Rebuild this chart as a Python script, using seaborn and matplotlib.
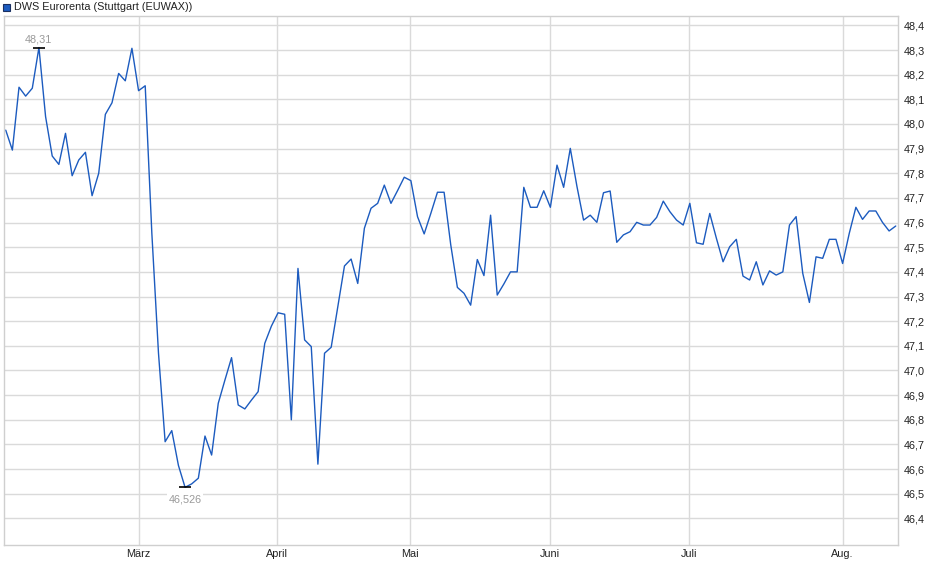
import numpy as np
import pandas as pd
import seaborn as sns
import matplotlib.pyplot as plt
from matplotlib.patches import Rectangle
from matplotlib.ticker import FuncFormatter, FixedLocator

# values, one per trading day (Feb - mid Aug)
prices = [
    47.975, 47.894, 48.149, 48.113, 48.145, 48.310, 48.030, 47.870, 47.836, 47.962,
    47.790, 47.854, 47.885, 47.709, 47.800, 48.039, 48.086, 48.205, 48.175, 48.307,
    48.135, 48.155, 47.556, 47.070, 46.711, 46.756, 46.615, 46.526, 46.540, 46.563,
    46.734, 46.657, 46.867, 46.961, 47.052, 46.860, 46.844, 46.880, 46.914, 47.110,
    47.180, 47.234, 47.228, 46.800, 47.414, 47.124, 47.097, 46.620, 47.070, 47.094,
    47.259, 47.424, 47.452, 47.353, 47.577, 47.658, 47.678, 47.752, 47.678, 47.730,
    47.784, 47.770, 47.624, 47.554, 47.637, 47.723, 47.723, 47.510, 47.337, 47.313,
    47.265, 47.450, 47.385, 47.630, 47.306, 47.351, 47.400, 47.400, 47.743, 47.662,
    47.662, 47.729, 47.662, 47.833, 47.743, 47.901, 47.747, 47.610, 47.630, 47.601,
    47.721, 47.728, 47.520, 47.550, 47.563, 47.601, 47.590, 47.590, 47.621, 47.687,
    47.644, 47.610, 47.590, 47.678, 47.518, 47.512, 47.637, 47.536, 47.441, 47.502,
    47.532, 47.383, 47.367, 47.441, 47.347, 47.404, 47.387, 47.400, 47.590, 47.624,
    47.394, 47.276, 47.461, 47.455, 47.532, 47.532, 47.434, 47.556, 47.662, 47.613,
    47.647, 47.647, 47.601, 47.566, 47.586,
]
month_labels = ['März', 'April', 'Mai', 'Juni', 'Juli', 'Aug.']
month_pos = [20, 40.9, 60.9, 82, 102.9, 126]
y_ticks = [46.4, 46.5, 46.6, 46.7, 46.8, 46.9, 47.0, 47.1, 47.2, 47.3,
           47.4, 47.5, 47.6, 47.7, 47.8, 47.9, 48.0, 48.1, 48.2, 48.3, 48.4]
title = 'DWS Eurorenta (Stuttgart (EUWAX))'

df = pd.DataFrame({'t': np.arange(len(prices)), 'price': prices})

sns.set_style('white')
plt.rcParams['font.family'] = ['Liberation Sans', 'DejaVu Sans']

line_color = '#1c5bbf'
grid_color = '#dadada'
fs = 7.8

fig = plt.figure(figsize=(9.4, 5.79), dpi=100)
W, H = 940.0, 579.0
ax = fig.add_axes([4 / W, (H - 545) / H, (898 - 4) / W, (545 - 16) / H])

sns.lineplot(data=df, x='t', y='price', ax=ax, color=line_color, linewidth=1.0)

ax.set_xlim(-0.26, 134.34)
ax.set_ylim(46.292, 48.438)

ax.xaxis.set_major_locator(FixedLocator(month_pos))
ax.set_xticklabels(month_labels)
ax.yaxis.set_major_locator(FixedLocator(y_ticks))
ax.yaxis.set_major_formatter(FuncFormatter(lambda v, p: f'{v:.1f}'.replace('.', ',')))
ax.yaxis.tick_right()
ax.tick_params(axis='y', length=0, pad=4, labelsize=fs, labelcolor='#222222')
ax.tick_params(axis='x', length=0, pad=3, labelsize=fs, labelcolor='#222222')
ax.set_xlabel('')
ax.set_ylabel('')
ax.grid(True, color=grid_color, linewidth=1.0)
for s in ax.spines.values():
    s.set_color('#cfcfcf')
    s.set_linewidth(1.0)

# high / low markers
i_hi = int(np.argmax(prices))
i_lo = int(np.argmin(prices))
ax.plot([i_hi], [prices[i_hi]], marker='_', color='black', markersize=9, mew=1.2)
ax.plot([i_lo], [prices[i_lo]], marker='_', color='black', markersize=9, mew=1.2)
ax.annotate('48,31', (i_hi, prices[i_hi]), xytext=(0, 2), textcoords='offset points',
            ha='center', va='bottom', fontsize=fs, color='#9a9a9a')
ax.annotate('46,526', (i_lo, prices[i_lo]), xytext=(0, -5), textcoords='offset points',
            ha='center', va='top', fontsize=fs, color='#9a9a9a',
            bbox=dict(boxstyle='square,pad=0.1', fc='white', ec='none'))

# legend-like header
fig.patches.append(Rectangle((3 / W, (H - 11) / H), 7 / W, 7 / H, transform=fig.transFigure,
                             facecolor=line_color, edgecolor='#1a2f60', linewidth=0.8))
fig.text(14 / W, (H - 7) / H, title, fontsize=fs, color='#222222', va='center', ha='left')

fig.savefig('out.png', dpi=100)
plt.close(fig)
